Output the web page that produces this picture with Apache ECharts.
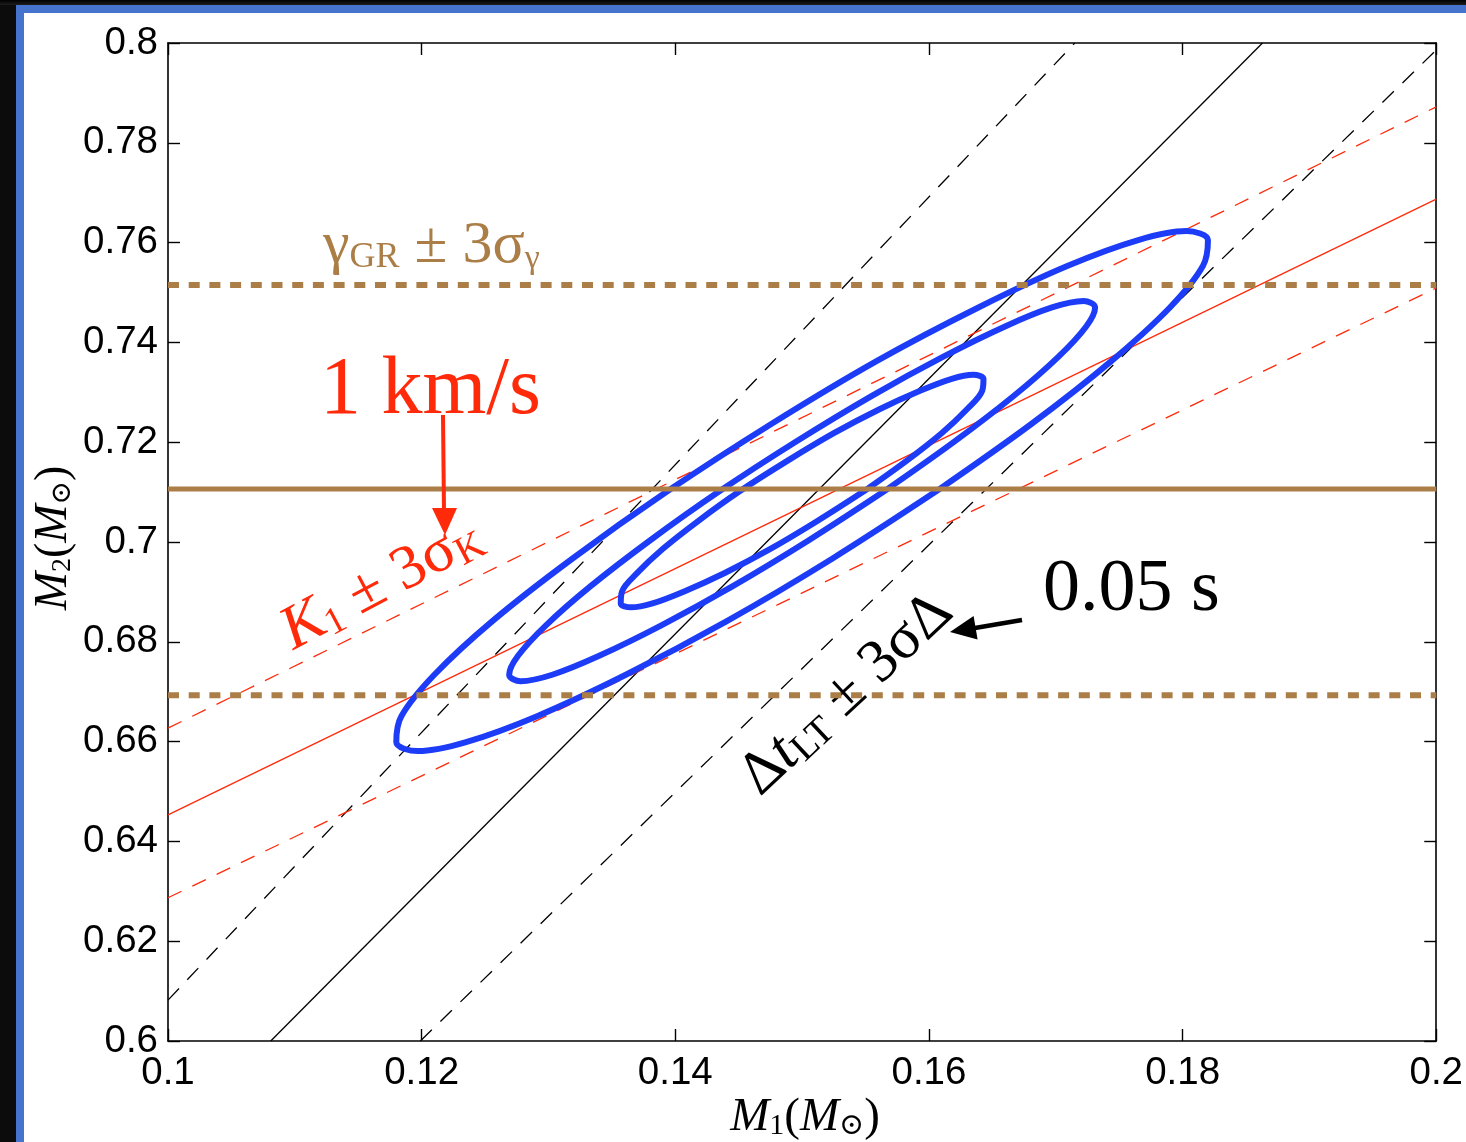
<!DOCTYPE html>
<html>
<head>
<meta charset="utf-8">
<script src="https://cdn.jsdelivr.net/npm/echarts@6/dist/echarts.min.js"></script>
<style>
html,body{margin:0;padding:0;width:1466px;height:1142px;overflow:hidden;background:#0c0c0c;}
#topstrip{position:absolute;left:0;top:0;width:1466px;height:5px;background:linear-gradient(#000,#1e1e1e);}
#frame{position:absolute;left:16px;top:5px;right:0;bottom:0;background:#fff;border-left:8px solid #4674cc;border-top:8px solid #4674cc;}
#main{position:absolute;left:0;top:0;width:1466px;height:1142px;}
</style>
</head>
<body>
<div id="topstrip"></div>
<div id="frame"></div>
<div id="main"></div>
<script>
// ---- tick labels ----
const xTickLabels = ['0.1','0.12','0.14','0.16','0.18','0.2'];
const yTickLabels = ['0.6','0.62','0.64','0.66','0.68','0.7','0.72','0.74','0.76','0.78','0.8'];

// ---- constraint lines (M1, M2) ----
const dtCenter = [[0.1081,0.6],[0.1863,0.8]];
const dtUpper  = [[0.1,0.6082],[0.1715,0.8]];
const dtLower  = [[0.1199,0.6],[0.2,0.7986]];
const k1Center = [[0.1,0.6453],[0.2,0.7687]];
const k1Upper  = [[0.1,0.6627],[0.2,0.7872]];
const k1Lower  = [[0.1,0.6287],[0.2,0.7509]];
const gammaCenter = [[0.1,0.7106],[0.2,0.7106]];
const gammaUpper  = [[0.1,0.7515],[0.2,0.7515]];
const gammaLower  = [[0.1,0.6693],[0.2,0.6693]];

// ---- confidence contours ----
const contourOuter = [[0.1606,0.7102],[0.1681,0.7237],[0.1744,0.7363],[0.1790,0.7470],[0.1816,0.7553],[0.1820,0.7605],[0.1803,0.7623],[0.1765,0.7605],[0.1709,0.7553],[0.1639,0.7470],[0.1559,0.7363],[0.1476,0.7237],[0.1394,0.7102],[0.1319,0.6967],[0.1256,0.6842],[0.1210,0.6734],[0.1184,0.6651],[0.1180,0.6599],[0.1197,0.6581],[0.1235,0.6599],[0.1291,0.6651],[0.1361,0.6734],[0.1441,0.6842],[0.1524,0.6967],[0.1606,0.7102]];
const contourMiddle = [[0.1565,0.7102],[0.1620,0.7201],[0.1667,0.7293],[0.1702,0.7371],[0.1724,0.7432],[0.1731,0.7470],[0.1722,0.7483],[0.1697,0.7470],[0.1660,0.7432],[0.1611,0.7371],[0.1555,0.7293],[0.1495,0.7201],[0.1435,0.7102],[0.1380,0.7003],[0.1333,0.6911],[0.1298,0.6833],[0.1276,0.6772],[0.1269,0.6734],[0.1278,0.6721],[0.1303,0.6734],[0.1340,0.6772],[0.1389,0.6833],[0.1445,0.6911],[0.1505,0.7003],[0.1565,0.7102]];
const contourInner = [[0.1549,0.7102],[0.1582,0.7162],[0.1610,0.7218],[0.1630,0.7266],[0.1642,0.7303],[0.1643,0.7327],[0.1635,0.7335],[0.1618,0.7327],[0.1593,0.7303],[0.1561,0.7266],[0.1525,0.7218],[0.1488,0.7162],[0.1451,0.7102],[0.1418,0.7042],[0.1390,0.6986],[0.1370,0.6938],[0.1358,0.6901],[0.1357,0.6877],[0.1365,0.6869],[0.1382,0.6877],[0.1407,0.6901],[0.1439,0.6938],[0.1475,0.6986],[0.1512,0.7042],[0.1549,0.7102]];

const BROWN = '#ab7e48', RED = '#ff2a0a', BLUE = '#1d3cf8', SERIF = '"Liberation Serif","DejaVu Serif",serif', SANS = '"Liberation Sans",Arial,sans-serif';

function lineSeries(data, color, width, type, z) {
  return {type:'line', data:data, showSymbol:false, symbol:'none', silent:true, animation:false, z:z,
    lineStyle:{color:color, width:width, type:type, cap:'butt'}};
}

const chart = echarts.init(document.getElementById('main'), null, {renderer:'canvas'});

const axisCommon = {
  type:'value', splitLine:{show:false},
  axisLine:{show:true, onZero:false, lineStyle:{color:'#000', width:1.6}},
  axisTick:{show:true, inside:true, length:12, lineStyle:{color:'#000', width:1.4}}
};

const option = {
  animation:false,
  grid:{left:168, right:29, top:43, bottom:101, containLabel:false},
  xAxis:[
    Object.assign({}, axisCommon, {min:0.1, max:0.2, interval:0.02, position:'bottom',
      axisLabel:{show:true, margin:13, fontSize:38.5, fontFamily:SANS, color:'#000',
        formatter:v=>xTickLabels[Math.round((v-0.1)/0.02)]}}),
    Object.assign({}, axisCommon, {min:0.1, max:0.2, interval:0.02, position:'top', axisLabel:{show:false}})
  ],
  yAxis:[
    Object.assign({}, axisCommon, {min:0.6, max:0.8, interval:0.02, position:'left',
      axisLabel:{show:true, margin:10, fontSize:38.5, fontFamily:SANS, color:'#000',
        formatter:v=>yTickLabels[Math.round((v-0.6)/0.02)]}}),
    Object.assign({}, axisCommon, {min:0.6, max:0.8, interval:0.02, position:'right', axisLabel:{show:false}})
  ],
  series:[
    lineSeries(dtCenter,'#000',1.3,'solid',2),
    lineSeries(dtUpper,'#000',1.3,[16,12],2),
    lineSeries(dtLower,'#000',1.3,[16,12],2),
    lineSeries(k1Center,RED,1.3,'solid',2),
    lineSeries(k1Upper,RED,1.3,[15,12],2),
    lineSeries(k1Lower,RED,1.3,[15,12],2),
    Object.assign(lineSeries(contourOuter,BLUE,6,'solid',3),{smooth:0.35}),
    Object.assign(lineSeries(contourMiddle,BLUE,6,'solid',3),{smooth:0.35}),
    Object.assign(lineSeries(contourInner,BLUE,6,'solid',3),{smooth:0.35}),
    lineSeries(gammaCenter,BROWN,5,'solid',4),
    lineSeries(gammaUpper,BROWN,6,[11,9.7],4),
    lineSeries(gammaLower,BROWN,6,[11,9.7],4)
  ],
  graphic:[
    // gamma label
    {type:'text', x:323, y:216, z:10, style:{text:'{a|γ}{b|GR}{a| ± 3σ}{c|γ}', align:'left', verticalAlign:'top', textVerticalAlign:'top',
      rich:{
        a:{fontSize:60, fontFamily:SERIF, lineHeight:60, fill:BROWN, color:BROWN},
        b:{fontSize:36, fontFamily:SERIF, lineHeight:47.5, verticalAlign:'bottom', fill:BROWN, color:BROWN},
        c:{fontSize:34, fontFamily:SERIF, lineHeight:46.5, verticalAlign:'bottom', fill:BROWN, color:BROWN}
      }}},
    // 1 km/s
    {type:'text', x:320, y:350, z:10, style:{text:'1 km/s', fontSize:82, fontFamily:SERIF, lineHeight:82, fill:RED, align:'left', verticalAlign:'top', textVerticalAlign:'top'}},
    // red arrow
    {type:'line', z:10, shape:{x1:443, y1:415, x2:444, y2:512}, style:{stroke:RED, lineWidth:4}},
    {type:'polygon', z:10, shape:{points:[[445,535],[432,508],[457,508]]}, style:{fill:RED}},
    // K1 label (rotated)
    {type:'group', x:293, y:650, rotation:28*Math.PI/180, z:10, children:[
      {type:'text', x:0, y:-47, style:{text:'{i|K}{s|1}{a| ± 3σ}{k|K}', align:'left', verticalAlign:'top', textVerticalAlign:'top',
        rich:{
          i:{fontSize:62, fontFamily:SERIF, fontStyle:'italic', lineHeight:62, fill:RED, color:RED},
          a:{fontSize:62, fontFamily:SERIF, lineHeight:62, fill:RED, color:RED},
          s:{fontSize:38, fontFamily:SERIF, lineHeight:32, verticalAlign:'bottom', fill:RED, color:RED},
          k:{fontSize:40, fontFamily:SERIF, lineHeight:50.5, verticalAlign:'bottom', fill:RED, color:RED}
        }}}
    ]},
    // delta t label (rotated)
    {type:'group', x:760, y:797, rotation:43*Math.PI/180, z:10, children:[
      {type:'text', x:0, y:-46.4, style:{text:'{a|Δ}{i|t}{s|LT}{a| ± 3σΔ}', align:'left', verticalAlign:'top', textVerticalAlign:'top',
        rich:{
          i:{fontSize:61, fontFamily:SERIF, fontStyle:'italic', lineHeight:61, fill:'#000', color:'#000'},
          a:{fontSize:61, fontFamily:SERIF, lineHeight:61, fill:'#000', color:'#000'},
          s:{fontSize:39, fontFamily:SERIF, lineHeight:32, verticalAlign:'bottom', fill:'#000', color:'#000'}
        }}}
    ]},
    // 0.05 s
    {type:'text', x:1043, y:554, z:10, style:{text:'0.05 s', fontSize:74, fontFamily:SERIF, lineHeight:74, fill:'#000', align:'left', verticalAlign:'top', textVerticalAlign:'top'}},
    // black arrow
    {type:'line', z:10, shape:{x1:1022, y1:620, x2:972, y2:628.5}, style:{stroke:'#000', lineWidth:4.5}},
    {type:'polygon', z:10, shape:{points:[[950,632],[973.6,615.9],[977.6,639.5]]}, style:{fill:'#000'}},
    // x axis name
    {type:'text', x:805, y:1094, z:10, style:{text:'{i|M}{s|1}{p|(}{i|M}{s|⊙}{p|)}', align:'center', verticalAlign:'top', textVerticalAlign:'top',
      rich:{
        i:{fontSize:47, fontFamily:SERIF, fontStyle:'italic', lineHeight:47, fill:'#000', color:'#000'},
        p:{fontSize:47, fontFamily:SERIF, lineHeight:47, fill:'#000', color:'#000'},
        s:{fontSize:30, fontFamily:SERIF, lineHeight:22.5, verticalAlign:'bottom', fill:'#000', color:'#000'}
      }}},
    // y axis name
    {type:'group', x:66, y:538, rotation:Math.PI/2, z:10, children:[
      {type:'text', x:0, y:-35, style:{text:'{i|M}{s|2}{p|(}{i|M}{s|⊙}{p|)}', align:'center', verticalAlign:'top', textVerticalAlign:'top',
        rich:{
          i:{fontSize:46, fontFamily:SERIF, fontStyle:'italic', lineHeight:46, fill:'#000', color:'#000'},
          p:{fontSize:46, fontFamily:SERIF, lineHeight:46, fill:'#000', color:'#000'},
          s:{fontSize:28, fontFamily:SERIF, lineHeight:20.6, verticalAlign:'bottom', fill:'#000', color:'#000'}
        }}}
    ]}
  ]
};
chart.setOption(option);
</script>
</body>
</html>
